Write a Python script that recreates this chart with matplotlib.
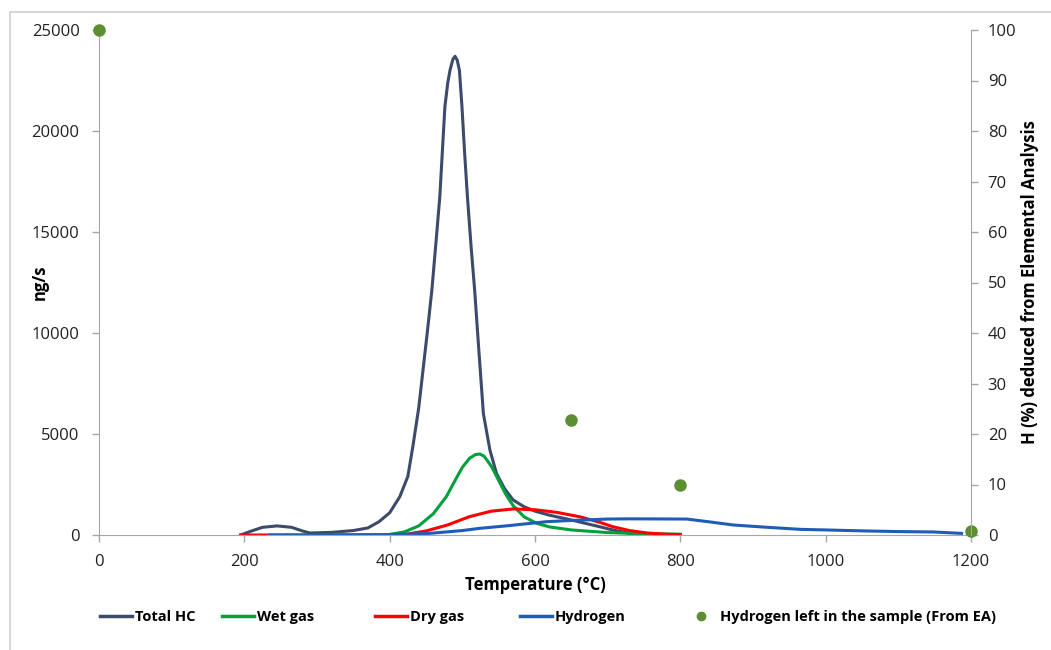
import matplotlib
matplotlib.use("Agg")
import matplotlib.pyplot as plt
from matplotlib.lines import Line2D

plt.rcParams["font.family"] = ["Open Sans", "DejaVu Sans"]

# Total HC
hc_t = [195, 210, 225, 245, 265, 280, 290, 320, 350, 370, 385, 400, 414, 425, 432,
        440, 446, 452, 458, 464, 469, 473, 476, 480, 483, 487, 490, 493, 496, 499.5,
        503, 507, 512, 517, 523, 529, 538, 547, 558, 570, 585, 600, 620, 648, 662,
        690, 707, 730, 745]
hc_v = [0, 200, 380, 450, 380, 200, 100, 130, 220, 350, 650, 1100, 1900, 2900, 4400,
        6300, 8200, 10100, 12100, 14600, 16750, 19300, 21200, 22400, 23000, 23550, 23700, 23500, 23000, 21200,
        19000, 16750, 14300, 12100, 9000, 6000, 4200, 3050, 2300, 1730, 1400, 1180, 980, 760, 640,
        400, 250, 80, 0]

# Wet gas
wet_t = [400, 420, 440, 460, 478, 490, 500, 510, 518, 524, 530, 540, 550, 560, 570,
         585, 602, 620, 650, 700, 750, 800]
wet_v = [30, 150, 450, 1050, 1900, 2700, 3350, 3800, 3980, 4010, 3900, 3400, 2700, 2000, 1450,
         900, 580, 400, 250, 120, 60, 40]

# Dry gas
dry_t = [195, 235, 300, 400, 420, 450, 480, 510, 540, 570, 600, 630, 662, 690, 707,
         730, 754, 780, 800]
dry_v = [0, 0, 0, 0, 20, 200, 500, 910, 1180, 1290, 1250, 1120, 900, 620, 410,
         220, 100, 40, 20]

# Hydrogen
h2_t = [235, 300, 400, 455, 500, 524, 560, 616, 650, 700, 731, 809, 840, 873, 920,
        965, 1000, 1056, 1100, 1148, 1187]
h2_v = [0, 0, 20, 80, 220, 330, 450, 660, 720, 790, 800, 790, 650, 495, 380,
        280, 250, 200, 170, 150, 80]

# Hydrogen left in the sample (From EA), right axis
ea_t = [0, 650, 800, 1200]
ea_h = [100, 22.7, 10, 0.8]

c_hc = "#3C4B6B"
c_wet = "#00A03C"
c_dry = "#FF0000"
c_h2 = "#1F5CB8"
c_ea = "#5B8F32"
gray = "#A6A6A6"

fig = plt.figure(figsize=(10.51, 6.5), dpi=100)
ax = fig.add_axes([99 / 1051, 115 / 650, 872 / 1051, 505 / 650])
ax2 = ax.twinx()

ax.plot(hc_t, hc_v, color=c_hc, lw=2.2)
ax.plot(wet_t, wet_v, color=c_wet, lw=2.2)
ax.plot(dry_t, dry_v, color=c_dry, lw=2.2)
ax.plot(h2_t, h2_v, color=c_h2, lw=2.2)
ax2.plot(ea_t, ea_h, "o", color=c_ea, ms=8, clip_on=False)

ax.set_xlim(0, 1200)
ax.set_ylim(0, 25000)
ax2.set_ylim(0, 100)
ax.set_xticks(range(0, 1201, 200))
ax.set_yticks(range(0, 25001, 5000))
ax2.set_yticks(range(0, 101, 10))

for a in (ax, ax2):
    for s in a.spines.values():
        s.set_visible(False)
    a.tick_params(colors=gray, labelcolor="#222222", labelsize=12, length=5, width=1)
ax.spines["left"].set_visible(True)
ax.spines["bottom"].set_visible(True)
ax2.spines["right"].set_visible(True)
for s in (ax.spines["left"], ax.spines["bottom"], ax2.spines["right"]):
    s.set_color(gray)
ax.tick_params(axis="y", pad=9)
ax.tick_params(axis="x", pad=9)
ax2.tick_params(axis="y", pad=7)

ax.set_xlabel("Temperature (°C)", fontsize=12, fontweight="bold")
ax.set_ylabel("ng/s", fontsize=12, fontweight="bold")
ax2.set_ylabel("H (%) deduced from Elemental Analysis", fontsize=12, fontweight="bold")
ax.xaxis.set_label_coords(0.5, -(585 - 535) / 505)
ax.yaxis.set_label_coords(-(99 - 40) / 872, 0.5)
ax2.yaxis.set_label_coords(1 + (1030 - 971) / 872, 0.5)
ax.xaxis.label.set_va("center")
ax.yaxis.label.set_va("center")
ax2.yaxis.label.set_va("center")

# legend entries placed like the original (uneven spacing)
entries = [
    (Line2D([], [], color=c_hc, lw=2.5), "Total HC", 100),
    (Line2D([], [], color=c_wet, lw=2.5), "Wet gas", 222),
    (Line2D([], [], color=c_dry, lw=2.5), "Dry gas", 375),
    (Line2D([], [], color=c_h2, lw=2.5), "Hydrogen", 520),
    (Line2D([], [], ls="none", marker="o", color=c_ea, ms=6),
     "Hydrogen left in the sample (From EA)", 685),
]
for h, lab, x0 in entries:
    lg = fig.legend([h], [lab], loc="center left", bbox_to_anchor=(x0 / 1051, 1 - 617 / 650),
                    frameon=False, handlelength=2.2, handletextpad=0.2, borderpad=0,
                    borderaxespad=0, prop={"weight": "bold", "size": 10.5})

# outer chart frame
fig.add_artist(Line2D([10 / 1051, 10 / 1051], [0, 1 - 12 / 650], color="#D0D0D0", lw=1.2,
                      transform=fig.transFigure))
fig.add_artist(Line2D([10 / 1051, 1], [1 - 12 / 650, 1 - 12 / 650], color="#D0D0D0", lw=1.2,
                      transform=fig.transFigure))

fig.savefig("out.png", dpi=100)
